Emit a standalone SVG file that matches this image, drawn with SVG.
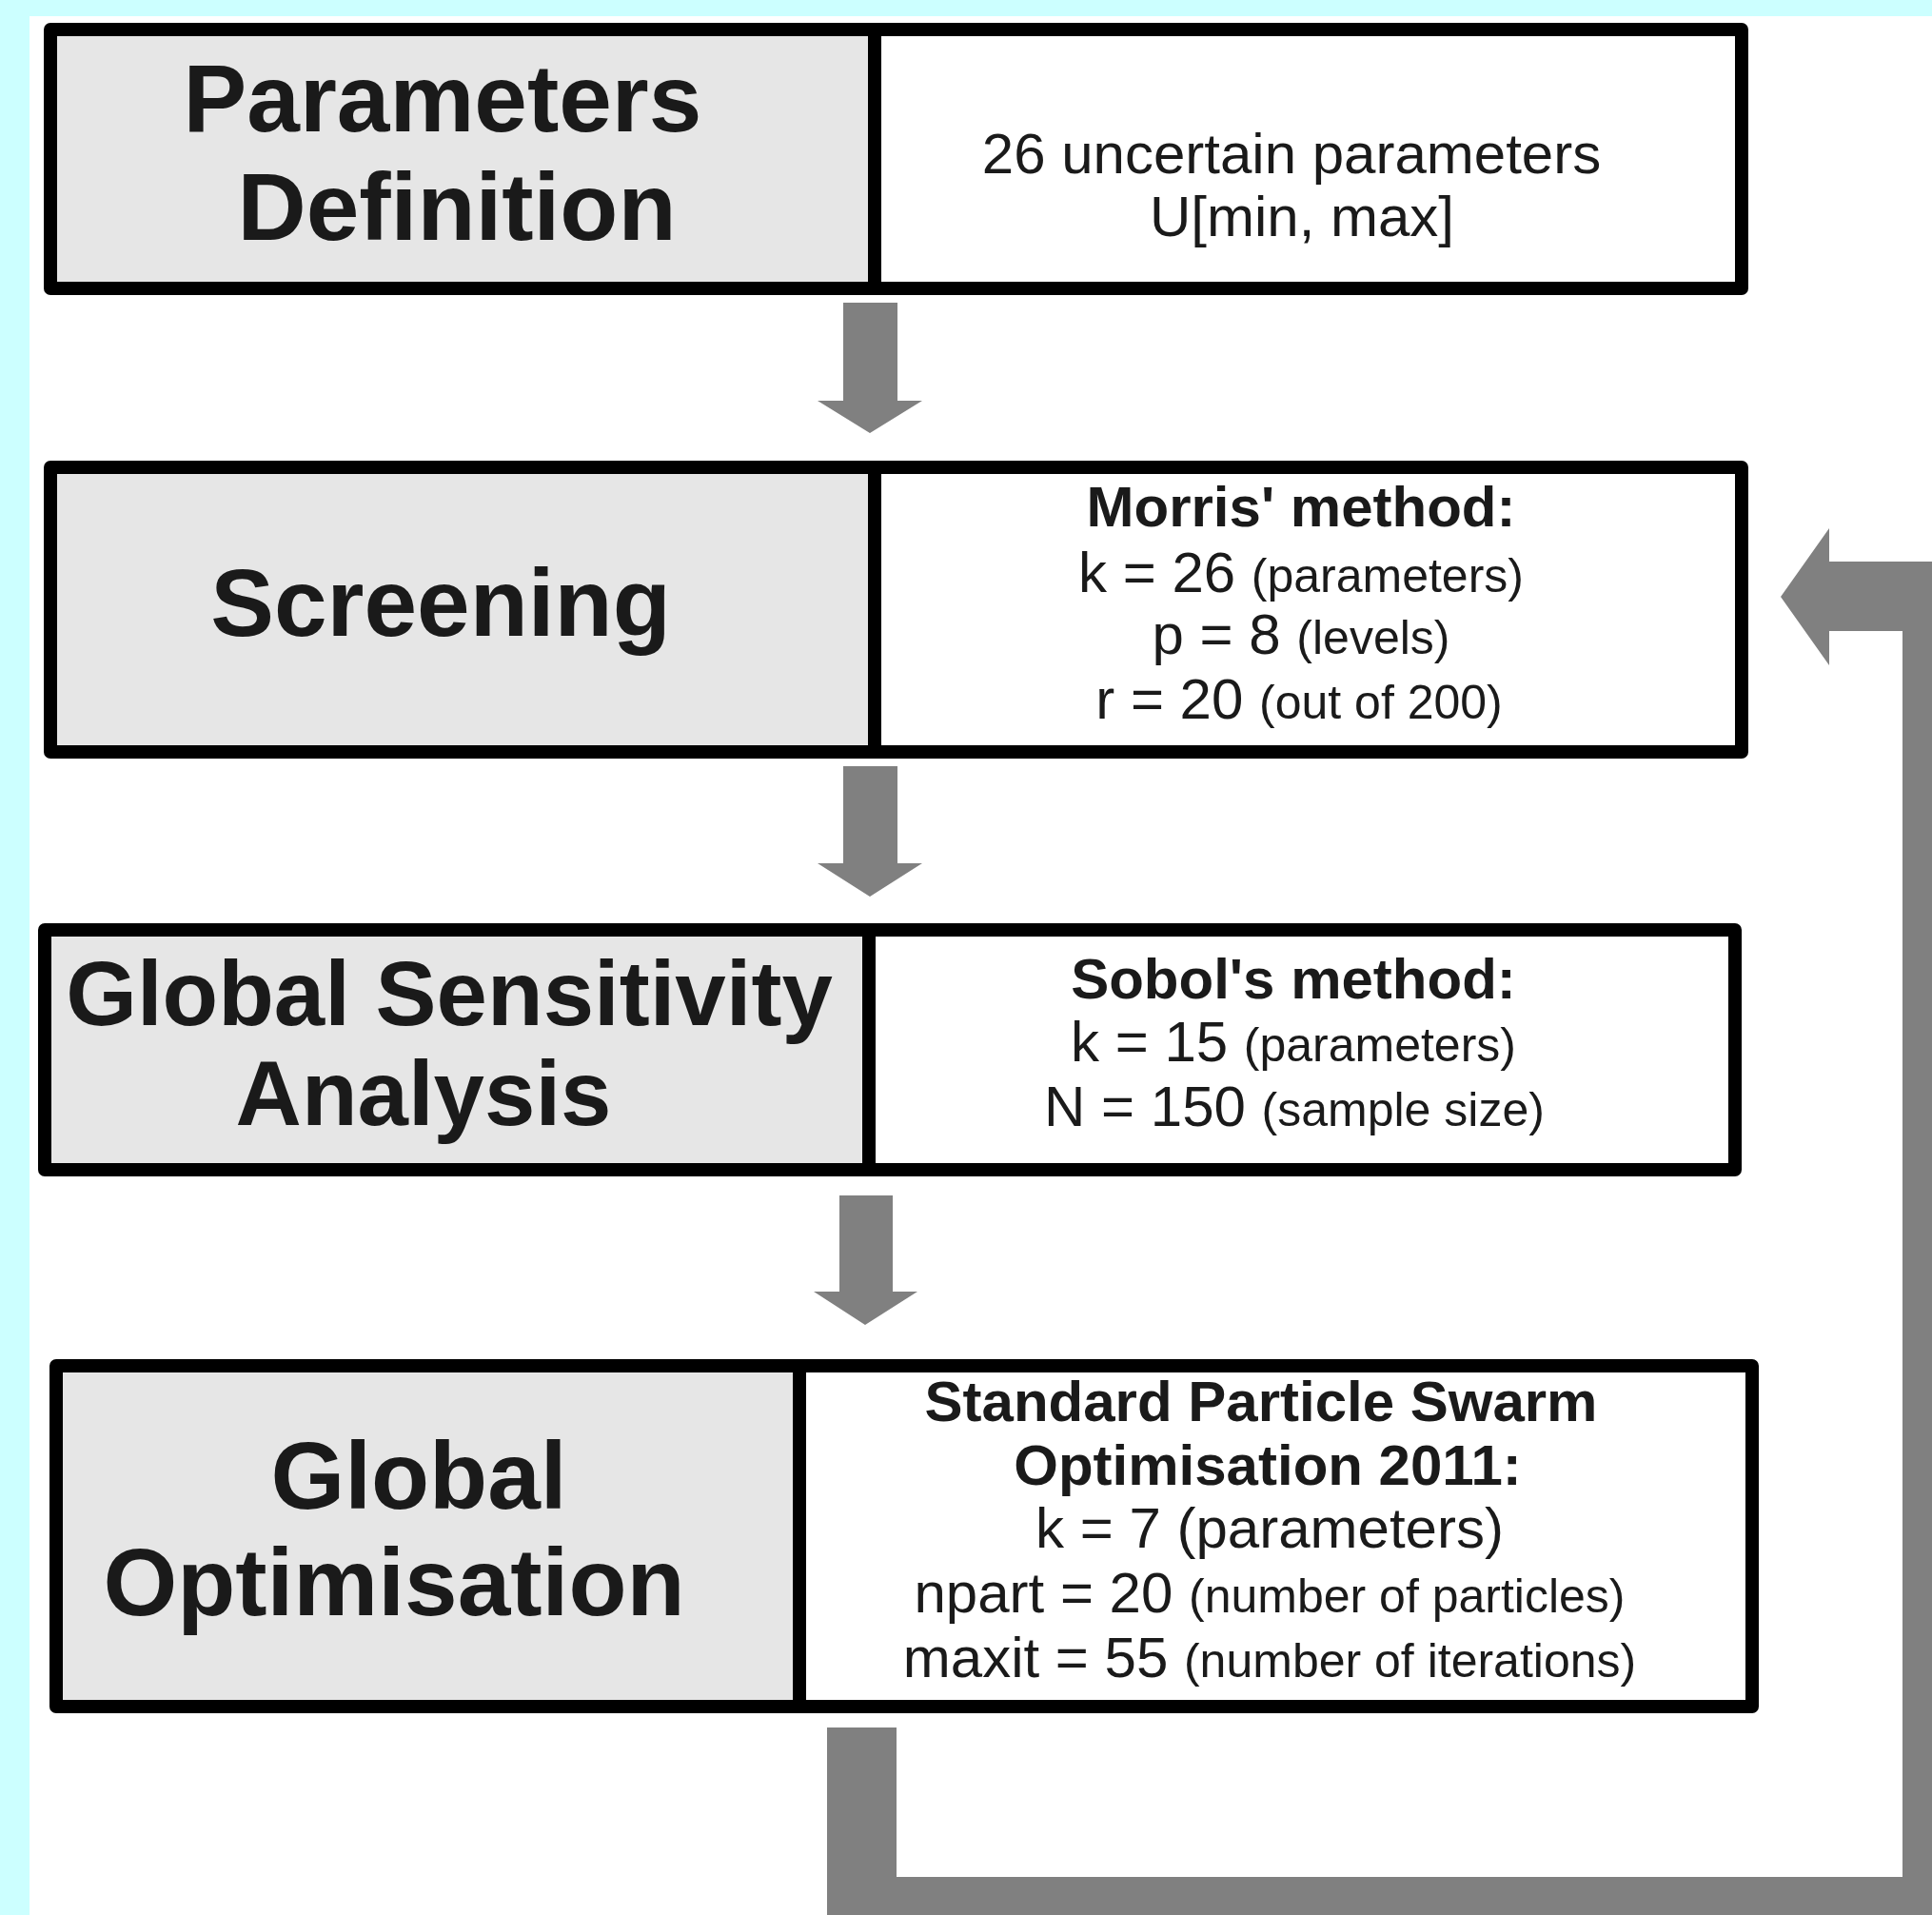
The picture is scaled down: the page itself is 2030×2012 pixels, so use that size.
<svg xmlns="http://www.w3.org/2000/svg" width="2030" height="2012" viewBox="0 0 2030 2012">
<style>
.box{fill:none;stroke:#000;stroke-width:14;stroke-linejoin:round}
.lc{fill:#e6e6e6}
.div{stroke:#000;stroke-width:14}
.t{font-family:"Liberation Sans",Arial,sans-serif;fill:#1a1a1a;text-anchor:middle}
.h{font-size:100px;font-weight:bold}
.b{font-size:60px;font-weight:bold}
.r{font-size:60px}
.s{font-size:50px}
.arr{fill:#808080}
</style>
<rect x="0" y="0" width="2030" height="2012" fill="#ffffff"/>
<rect x="0" y="0" width="2030" height="17" fill="#ccffff"/>
<rect x="0" y="0" width="31" height="2012" fill="#ccffff"/>

<g id="connectors">
<polygon class="arr" points="886,318 943,318 943,421 969,421 914,455 859,421 886,421"/>
<polygon class="arr" points="886,805 943,805 943,907 969,907 914,942 859,907 886,907"/>
<polygon class="arr" points="882,1256 938,1256 938,1357 964,1357 909,1392 855,1357 882,1357"/>
<polygon class="arr" points="869,1815 942,1815 942,1972 1999,1972 1999,663 1922,663 1922,699 1871,627 1922,555 1922,590 2072,590 2072,2045 869,2045"/>
</g>

<g id="node-parameters-definition">
<rect class="lc" x="53" y="31" width="866" height="272"/>
<rect class="box" x="53" y="31" width="1777" height="272"/>
<line class="div" x1="919" y1="31" x2="919" y2="303"/>
<text class="t h" x="465" y="138">Parameters</text>
<text class="t h" x="480" y="252">Definition</text>
<text class="t r" x="1357" y="182">26 uncertain parameters</text>
<text class="t r" x="1368" y="248">U[min, max]</text>
</g>

<g id="node-screening">
<rect class="lc" x="53" y="491" width="866" height="299"/>
<rect class="box" x="53" y="491" width="1777" height="299"/>
<line class="div" x1="919" y1="491" x2="919" y2="790"/>
<text class="t h" x="463" y="668">Screening</text>
<text class="t b" x="1367" y="553">Morris' method:</text>
<text class="t r" x="1367" y="622">k = 26 <tspan class="s">(parameters)</tspan></text>
<text class="t r" x="1367" y="687">p = 8 <tspan class="s">(levels)</tspan></text>
<text class="t r" x="1365" y="755">r = 20 <tspan class="s">(out of 200)</tspan></text>
</g>

<g id="node-gsa">
<rect class="lc" x="47" y="977" width="866" height="252"/>
<rect class="box" x="47" y="977" width="1776" height="252"/>
<line class="div" x1="913" y1="977" x2="913" y2="1229"/>
<text class="t h" x="472" y="1077" style="font-size:96px">Global Sensitivity</text>
<text class="t h" x="445" y="1182" style="font-size:96px">Analysis</text>
<text class="t b" x="1359" y="1049">Sobol's method:</text>
<text class="t r" x="1359" y="1115">k = 15 <tspan class="s">(parameters)</tspan></text>
<text class="t r" x="1360" y="1183">N = 150 <tspan class="s">(sample size)</tspan></text>
</g>

<g id="node-global-optimisation">
<rect class="lc" x="59" y="1435" width="781" height="358"/>
<rect class="box" x="59" y="1435" width="1782" height="358"/>
<line class="div" x1="840" y1="1435" x2="840" y2="1793"/>
<text class="t h" x="440" y="1585">Global</text>
<text class="t h" x="414" y="1697">Optimisation</text>
<text class="t b" x="1325" y="1493">Standard Particle Swarm</text>
<text class="t b" x="1332" y="1560">Optimisation 2011:</text>
<text class="t r" x="1334" y="1626">k = 7 (parameters)</text>
<text class="t r" x="1334" y="1694">npart = 20 <tspan class="s">(number of particles)</tspan></text>
<text class="t r" x="1334" y="1762">maxit = 55 <tspan class="s">(number of iterations)</tspan></text>
</g>
</svg>
